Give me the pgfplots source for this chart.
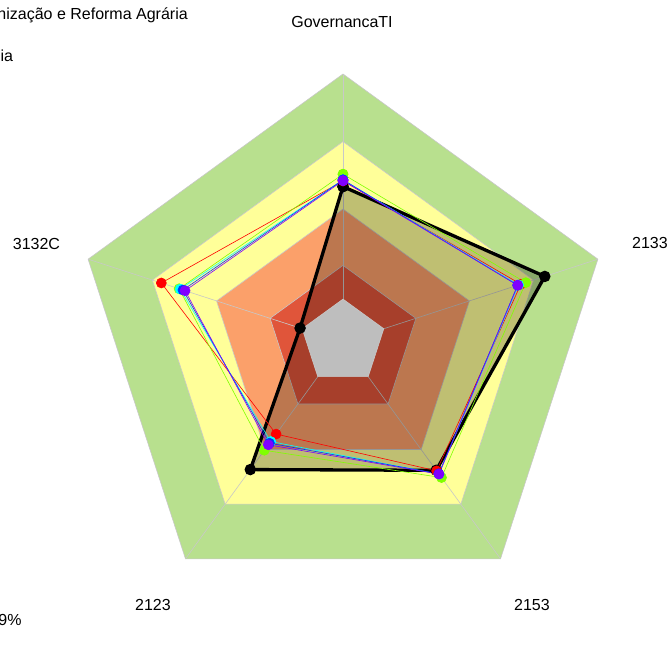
\documentclass[border=0pt]{standalone}
\usepackage{pgfplots}
\pgfplotsset{compat=1.18}
\usepgfplotslibrary{polar}
\usepackage{fontspec}
\setmainfont{Liberation Sans}
\definecolor{bandgreen}{HTML}{B8E08E}
\definecolor{bandyellow}{HTML}{FFFF99}
\definecolor{bandorange}{HTML}{FBA06A}
\definecolor{bandred}{HTML}{E0553A}
\definecolor{holegray}{HTML}{BEBEBE}
\definecolor{sgreen}{HTML}{80FF00}
\definecolor{scyan}{HTML}{00FFFF}
\definecolor{sblue}{HTML}{0033FF}
\definecolor{spurple}{HTML}{8000FF}
\definecolor{gridgray}{HTML}{C8C8C8}
\begin{document}
\begin{tikzpicture}[x=1pt,y=1pt]
\path[use as bounding box] (0,0) rectangle (669,670);
\clip (0,0) rectangle (669,670);
\begin{polaraxis}[
  at={(343pt,328pt)}, anchor=origin,
  scale only axis, width=536pt, height=536pt,
  xmin=0, xmax=360, ymin=0, ymax=100,
  hide axis, clip=false,
  y filter/.expression={16+0.84*y},
]
% bands (value scale 0-100)
\addplot[fill=bandgreen, draw=gridgray, line width=0.6pt] coordinates {(90,100) (18,100) (306,100) (234,100) (162,100) (90,100)};
\addplot[fill=bandyellow, draw=gridgray, line width=0.6pt] coordinates {(90,70) (18,70) (306,70) (234,70) (162,70) (90,70)};
\addplot[fill=bandorange, draw=gridgray, line width=0.6pt] coordinates {(90,40) (18,40) (306,40) (234,40) (162,40) (90,40)};
\addplot[fill=bandred, draw=gridgray, line width=0.6pt] coordinates {(90,15) (18,15) (306,15) (234,15) (162,15) (90,15)};
% spokes
\addplot[gridgray, line width=0.6pt] coordinates {(90,0) (90,100)};
\addplot[gridgray, line width=0.6pt] coordinates {(18,0) (18,100)};
\addplot[gridgray, line width=0.6pt] coordinates {(306,0) (306,100)};
\addplot[gridgray, line width=0.6pt] coordinates {(234,0) (234,100)};
\addplot[gridgray, line width=0.6pt] coordinates {(162,0) (162,100)};
% reference series fill
\addplot[draw=none, fill=black, fill opacity=0.25] coordinates {(90,50) (18,75.2) (306,51.4) (234,51) (162,1) (90,50)};
% centre hole
\addplot[fill=holegray, draw=gridgray, line width=0.6pt] coordinates {(90,0) (18,0) (306,0) (234,0) (162,0) (90,0)};
% reference series line
\addplot[black, line width=3.3pt, mark=*, mark size=4pt, mark options={solid}] coordinates {(90,50) (18,75.2) (306,51.4) (234,51) (162,1) (90,50)};
% other series
\addplot[red, line width=0.6pt, mark=*, mark size=5pt, mark options={solid, draw=none, fill=red}] coordinates {(90,52.5) (18,64) (306,51.7) (234,31.5) (162,65.8) (90,52.5)};
\addplot[sgreen, line width=0.6pt, mark=*, mark size=5pt, mark options={solid, draw=none, fill=sgreen}] coordinates {(90,55.5) (18,66.3) (306,55.4) (234,40.4) (162,57.5) (90,55.5)};
\addplot[scyan, line width=0.6pt, mark=*, mark size=5pt, mark options={solid, draw=none, fill=scyan}] coordinates {(90,53) (18,63) (306,53.5) (234,35.6) (162,57) (90,53)};
\addplot[sblue, line width=0.6pt, mark=*, mark size=5pt, mark options={solid, draw=none, fill=sblue}] coordinates {(90,53) (18,62.5) (306,53.3) (234,36.5) (162,55.7) (90,53)};
\addplot[spurple, line width=0.6pt, mark=*, mark size=5pt, mark options={solid, draw=none, fill=spurple}] coordinates {(90,52.6) (18,62.6) (306,53.5) (234,37.4) (162,54.7) (90,52.6)};
\end{polaraxis}
\begin{scope}[every node/.style={inner sep=0pt, font=\fontsize{16}{19}\selectfont}]
\node[anchor=base] at (342,642.3) {GovernancaTI};
\node[anchor=base west] at (632,421.7) {2133};
\node[anchor=base west] at (12.7,420.5) {3132C};
\node[anchor=base] at (153,59.3) {2123};
\node[anchor=base] at (532,59.3) {2153};
\node[anchor=base east] at (188,650) {Instituto Nacional de Colonização e Reforma Agrária};
\node[anchor=base east] at (13.3,608.3) {Autarquia};
\node[anchor=base east] at (21.7,44.3) {Índice: 49\%};
\end{scope}
\end{tikzpicture}
\end{document}
